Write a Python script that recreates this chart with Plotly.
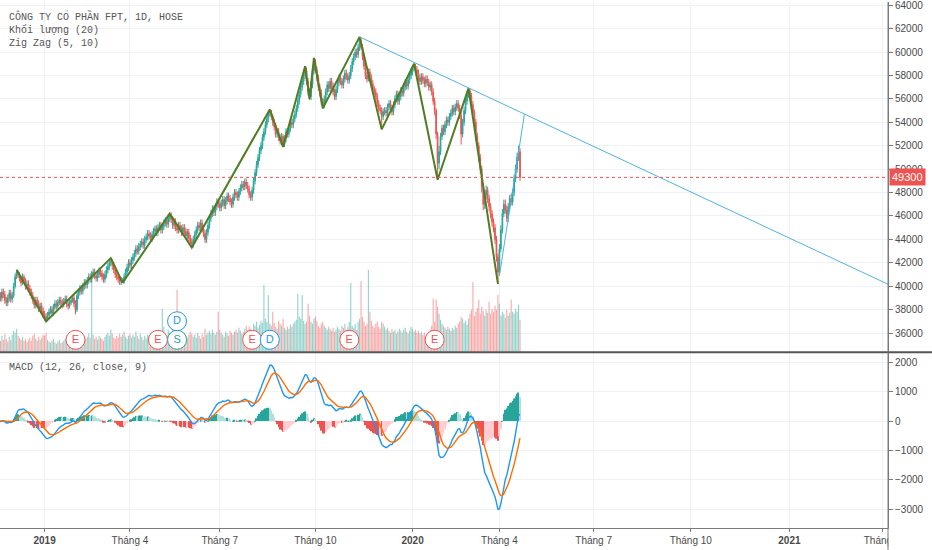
import pandas as pd
import plotly.graph_objects as go

# ---------------- data ----------------
HOLIDAYS = ["2019-01-01", "2019-02-04", "2019-02-05", "2019-02-06", "2019-02-07", "2019-02-08",
            "2019-04-15", "2019-04-29", "2019-04-30", "2019-05-01", "2019-09-02",
            "2020-01-01", "2020-01-23", "2020-01-24", "2020-01-27", "2020-01-28", "2020-01-29",
            "2020-04-02"]
START_DATE = "2018-11-19"
END_DATE = "2020-04-22"

# prices in hundreds of VND
close_h = [392,390,395,393,388,386,390,394,389,392,
           400,408,412,410,407,403,408,405,400,402,
           398,395,392,388,384,388,385,381,383,379,
           376,374,372,375,378,380,377,382,385,383,
           386,388,386,384,387,389,385,383,386,388,
           390,385,380,392,395,398,396,400,403,401,
           405,408,406,410,412,409,407,410,413,411,
           408,406,410,414,417,420,421,418,414,410,
           408,406,404,405,404,408,412,416,420,418,
           422,425,428,432,430,434,436,438,435,440,
           442,445,443,441,444,447,449,446,450,452,
           448,451,454,456,453,458,460,457,452,455,
           450,448,452,449,446,450,447,443,446,441,
           438,436,440,444,448,452,450,454,449,445,
           440,446,452,458,462,466,463,468,472,470,
           467,471,474,469,473,477,475,472,470,476,
           480,478,476,481,484,487,485,489,486,483,
           478,476,482,490,497,504,510,516,520,527,
           532,538,543,548,550,545,540,536,530,532,
           527,524,528,521,526,532,530,535,540,538,
           543,547,552,558,564,570,575,580,584,575,
           566,562,572,584,592,585,578,570,565,558,
           555,560,566,572,569,575,571,566,562,568,
           574,578,575,572,577,582,579,576,580,586,
           592,596,600,598,604,610,604,596,588,580,
           577,583,578,573,568,566,562,556,552,550,
           545,549,550,548,553,556,552,549,555,560,
           564,558,562,567,565,570,574,571,576,580,
           583,587,588,585,582,578,575,579,576,573,
           577,574,570,572,566,558,550,530,505,515,
           528,535,532,538,542,540,545,548,552,549,
           553,556,552,546,530,540,550,558,564,567,
           562,555,548,540,528,520,510,500,485,470,
           478,482,475,468,462,455,450,440,425,412,
           432,448,462,470,465,458,468,475,472,480,
           492,500,510,515,493]

open_h = [394,392,390,395,393,388,386,390,394,389,
          392,400,408,412,410,407,403,408,405,400,
          402,398,395,392,388,384,388,385,381,383,
          379,376,374,372,375,378,380,377,382,385,
          383,386,388,386,384,387,389,385,383,386,
          388,390,385,380,392,395,398,396,400,403,
          401,405,408,406,410,412,409,407,410,413,
          411,408,406,410,414,417,420,421,418,414,
          410,408,406,404,405,404,408,412,416,420,
          418,422,425,428,432,430,434,436,438,435,
          440,442,445,443,441,444,447,449,446,450,
          452,448,451,454,456,453,458,460,457,452,
          455,450,448,452,449,446,450,447,443,446,
          441,438,436,440,444,448,452,450,454,449,
          445,440,446,452,458,462,466,463,468,472,
          470,467,471,474,469,473,477,475,472,470,
          476,480,478,476,481,484,487,485,489,486,
          483,478,476,482,490,497,504,510,516,520,
          527,532,538,543,548,550,545,540,536,530,
          532,527,524,528,521,526,532,530,535,540,
          538,543,547,552,558,564,570,575,580,584,
          575,566,562,572,584,592,585,578,570,565,
          558,555,560,566,572,569,575,571,566,562,
          568,574,578,575,572,577,582,579,576,580,
          586,592,596,600,598,604,610,604,596,588,
          580,577,583,578,573,568,566,562,556,552,
          550,545,549,550,548,553,556,552,549,555,
          560,564,558,562,567,565,570,574,571,576,
          580,583,587,588,585,582,578,575,579,576,
          573,577,574,570,572,566,558,550,530,505,
          515,528,535,532,538,542,540,545,548,552,
          549,553,556,552,546,530,540,550,558,564,
          567,562,555,548,540,528,520,510,500,485,
          470,478,482,475,468,462,455,450,440,425,
          412,432,448,462,470,465,458,468,475,472,
          480,492,500,510,515]

high_h = [397,395,398,398,396,391,393,397,397,395,
          403,411,414,413,412,409,411,410,407,405,
          405,401,398,395,391,391,391,388,386,386,
          382,379,377,378,381,383,383,385,388,388,
          389,391,391,389,390,392,392,388,389,391,
          393,393,388,395,398,401,401,403,406,406,
          408,411,411,413,415,415,412,413,416,416,
          414,411,413,417,420,423,424,423,421,417,
          413,411,409,408,407,411,415,419,423,423,
          425,428,431,435,435,437,439,441,441,443,
          445,448,448,446,447,450,452,452,453,455,
          455,454,457,459,459,461,462,463,460,458,
          458,453,455,455,452,453,453,450,449,449,
          444,441,443,447,451,455,455,457,457,452,
          448,449,455,461,465,469,469,471,475,475,
          473,474,477,477,476,480,480,478,475,479,
          483,483,481,484,487,490,490,492,492,489,
          486,481,485,493,500,507,513,519,523,530,
          535,541,546,550,551,549,547,543,539,535,
          535,530,531,530,529,535,535,538,543,543,
          546,550,555,561,567,573,578,583,588,587,
          578,569,575,587,595,594,588,581,573,568,
          561,563,569,575,575,578,578,574,569,571,
          577,581,581,578,580,585,585,582,583,589,
          595,599,603,603,607,613,612,607,599,591,
          583,586,586,581,576,571,569,565,559,555,
          553,552,553,553,556,559,559,555,558,563,
          567,567,565,570,570,573,577,577,579,583,
          586,589,590,590,588,585,581,582,582,579,
          580,580,577,575,575,569,561,552,532,520,
          531,538,538,541,545,545,548,551,555,555,
          556,559,559,555,549,543,553,561,567,569,
          569,565,558,551,543,531,523,513,503,488,
          482,486,485,478,471,465,458,453,443,428,
          436,452,466,474,474,469,471,478,479,483,
          495,504,514,520,518]

low_h = [389,387,387,390,385,383,383,387,386,386,
         390,398,406,407,404,400,401,402,397,398,
         395,392,389,385,381,381,382,378,379,376,
         373,371,370,370,373,376,374,375,380,380,
         381,384,383,381,382,385,382,380,381,384,
         386,382,376,378,389,392,393,393,397,398,
         398,402,403,403,407,406,404,404,407,408,
         405,403,403,407,411,414,417,414,411,407,
         405,403,401,401,403,402,405,409,413,415,
         415,419,422,425,427,427,431,433,432,432,
         437,439,440,438,438,441,444,443,443,447,
         445,445,448,451,450,450,455,454,449,449,
         447,445,445,446,443,443,444,440,440,438,
         435,433,433,437,441,445,447,447,446,442,
         437,437,443,449,455,459,460,460,465,467,
         464,464,468,466,466,470,472,469,467,467,
         473,475,473,473,478,481,482,482,483,480,
         475,473,473,479,487,494,501,507,513,517,
         524,529,535,540,545,542,537,533,527,527,
         524,521,521,519,519,523,527,527,532,535,
         535,540,544,549,555,561,567,572,577,572,
         563,559,559,569,581,582,575,567,562,555,
         552,552,557,563,566,566,568,563,559,559,
         565,571,572,569,569,574,576,573,573,577,
         583,589,593,595,595,601,602,593,585,577,
         574,575,575,570,565,563,559,553,549,547,
         534,542,546,545,545,550,549,546,546,552,
         557,555,555,559,562,562,567,568,568,573,
         577,580,584,582,579,575,572,572,573,570,
         570,571,567,567,563,555,546,526,491,500,
         512,525,529,529,535,537,537,542,545,546,
         546,550,549,543,521,527,537,547,555,561,
         559,552,545,536,524,516,506,496,480,465,
         466,474,471,464,458,451,446,436,421,402,
         409,429,445,459,462,455,455,465,469,469,
         477,489,497,507,490]

# volume, in units of 10,000 shares
volume = [140,110,160,120,180,130,100,150,120,170,
          210,190,230,160,140,120,150,110,130,100,
          120,140,110,160,180,130,110,150,120,140,
          170,160,190,120,100,90,110,130,95,80,
          100,120,85,95,110,130,90,100,140,120,
          110,160,200,150,130,110,140,120,160,130,
          150,180,140,800,170,130,150,120,160,140,
          130,110,150,170,190,160,220,180,140,130,
          160,140,180,150,170,200,150,130,160,180,
          140,170,150,200,160,130,180,150,120,160,
          130,170,150,140,180,210,160,190,150,170,
          200,430,250,180,160,220,190,170,230,200,
          180,620,240,200,170,150,190,160,140,170,
          200,180,150,170,140,190,160,130,180,150,
          230,170,190,210,180,220,190,170,200,400,
          220,190,170,150,200,180,160,210,190,170,
          200,220,190,240,210,180,200,230,260,220,
          250,230,210,280,260,300,240,270,310,290,
          670,330,300,570,280,260,400,290,250,230,
          310,280,260,330,240,220,250,230,270,250,
          280,300,320,580,350,330,570,310,280,300,
          480,360,300,280,330,350,310,260,240,280,
          300,260,240,220,250,230,210,240,200,220,
          250,230,210,260,240,280,220,250,300,690,
          260,240,280,220,300,330,710,350,300,260,
          280,820,400,310,260,240,280,300,250,230,
          300,280,250,220,240,210,190,230,200,220,
          180,200,230,210,190,220,240,200,180,210,
          250,230,200,220,190,210,180,200,170,190,
          160,180,200,220,260,530,300,520,450,380,
          320,280,260,240,220,250,230,210,240,220,
          260,240,280,300,350,330,290,310,270,330,
          380,420,700,360,400,440,520,380,450,410,
          360,420,390,500,380,430,400,460,420,570,
          480,360,400,380,340,420,360,390,520,400,
          380,430,400,470,320]

# Zig Zag pivots
zz_dates = ["2018-12-05", "2019-01-03", "2019-03-13", "2019-03-25", "2019-05-14", "2019-06-04",
            "2019-08-16", "2019-08-29", "2019-09-20", "2019-09-25", "2019-09-30", "2019-10-08",
            "2019-11-12", "2019-12-03", "2020-01-03", "2020-02-03", "2020-03-03", "2020-03-31"]
zz_prices = [41400, 37000, 42400, 40300, 46200, 43300, 55100, 51900, 58800, 56000, 59500, 55200,
             61300, 53400, 59000, 49100, 56900, 40200]

# drawn lines
trend_dates = ["2019-11-12", "2021-04-07"]
trend_prices = [61300, 40170]
rise_dates = ["2020-04-01", "2020-04-27"]
rise_prices = [40900, 54700]

last_price = 49300

# events (date, letter, stack row)
ev_dates = ["2019-01-31", "2019-05-02", "2019-05-21", "2019-05-21", "2019-07-31", "2019-08-16",
            "2019-11-01", "2020-01-30"]
ev_labels = ["E", "E", "S", "D", "E", "D", "E", "E"]
ev_rows = [0, 0, 0, 1, 0, 0, 0, 0]

tick_dates = ["2019-01-02", "2019-04-01", "2019-07-01", "2019-10-01", "2020-01-02",
              "2020-04-01", "2020-07-01", "2020-10-01", "2021-01-04", "2021-04-01"]
tick_labels = ["<b>2019</b>", "Tháng 4", "Tháng 7", "Tháng 10", "<b>2020</b>",
               "Tháng 4", "Tháng 7", "Tháng 10", "<b>2021</b>", "Tháng 4"]

# ---------------- derived ----------------
dates = [d for d in pd.bdate_range(START_DATE, END_DATE) if d.strftime("%Y-%m-%d") not in HOLIDAYS]
assert len(dates) == len(close_h), (len(dates), len(close_h))
close = [v * 100 for v in close_h]
opn = [v * 100 for v in open_h]
high = [v * 100 for v in high_h]
low = [v * 100 for v in low_h]

UP = "#26a69a"
DOWN = "#ef5350"
vol_colors = ["rgba(38,166,154,0.5)" if c >= o else "rgba(239,83,80,0.5)" for o, c in zip(opn, close)]

cs = pd.Series(close, dtype=float)
macd = cs.ewm(span=12, adjust=False).mean() - cs.ewm(span=26, adjust=False).mean()
signal = macd.ewm(span=9, adjust=False).mean()
hist = macd - signal
hist_colors = []
prev = 0.0
for h in hist:
    if h >= 0:
        hist_colors.append("#26a69a" if h >= prev else "#b2dfdb")
    else:
        hist_colors.append("#ffcdd2" if h >= prev else "#ef5350")
    prev = h

ev_color = {"E": "#ef5350", "D": "#2196f3", "S": "#26a69a"}

# ---------------- figure ----------------
fig = go.Figure()

fig.add_trace(go.Bar(x=dates, y=volume, marker=dict(color=vol_colors, line_width=0),
                     xaxis="x", yaxis="y", hoverinfo="skip"))
fig.add_trace(go.Candlestick(x=dates, open=opn, high=high, low=low, close=close,
                             increasing=dict(line=dict(color=UP, width=1), fillcolor=UP),
                             decreasing=dict(line=dict(color=DOWN, width=1), fillcolor=DOWN),
                             whiskerwidth=0, xaxis="x", yaxis="y3", hoverinfo="skip"))
fig.add_trace(go.Scatter(x=zz_dates, y=zz_prices, mode="lines",
                         line=dict(color="#4e7d24", width=2), xaxis="x", yaxis="y3", hoverinfo="skip"))
fig.add_trace(go.Scatter(x=trend_dates, y=trend_prices, mode="lines",
                         line=dict(color="#4fb2e3", width=1), xaxis="x", yaxis="y3", hoverinfo="skip"))
fig.add_trace(go.Scatter(x=rise_dates, y=rise_prices, mode="lines",
                         line=dict(color="#4fb2e3", width=1), xaxis="x", yaxis="y3", hoverinfo="skip"))
fig.add_trace(go.Scatter(
    x=ev_dates, y=[0.034 + 0.053 * r for r in ev_rows], mode="markers+text",
    text=ev_labels, textposition="middle center",
    textfont=dict(family="Liberation Sans", size=11, color=[ev_color[l] for l in ev_labels]),
    marker=dict(symbol="circle", size=19, color="white",
                line=dict(color=[ev_color[l] for l in ev_labels], width=1)),
    xaxis="x", yaxis="y4", hoverinfo="skip", cliponaxis=False))

fig.add_trace(go.Bar(x=dates, y=hist, marker=dict(color=hist_colors, line_width=0),
                     xaxis="x", yaxis="y2", hoverinfo="skip"))
fig.add_trace(go.Scatter(x=dates, y=macd, mode="lines", line=dict(color="#2196f3", width=1.4),
                         xaxis="x", yaxis="y2", hoverinfo="skip"))
fig.add_trace(go.Scatter(x=dates, y=signal, mode="lines", line=dict(color="#ff6d00", width=1.4),
                         xaxis="x", yaxis="y2", hoverinfo="skip"))

AX_FONT = dict(family="Liberation Sans", size=10, color="#4a4a4a")
HDR_FONT = dict(family="Liberation Mono", size=10, color="#555555")
GRID = "#eef1f6"
LINE = "#7a7a7a"

MAIN_BOTTOM = (528 - 351) / 528
MACD_TOP = (528 - 352) / 528

fig.update_layout(
    width=932, height=550,
    margin=dict(l=0, r=44, t=0, b=22),
    paper_bgcolor="white", plot_bgcolor="white",
    showlegend=False, bargap=0.25,
    xaxis=dict(type="date", domain=[0, 1], anchor="y2",
               range=["2018-11-19 17:00", "2021-04-07"],
               rangebreaks=[dict(bounds=["sat", "mon"]), dict(values=HOLIDAYS)],
               tickmode="array", tickvals=tick_dates, ticktext=tick_labels,
               showgrid=True, gridcolor=GRID, gridwidth=1,
               showline=True, linecolor=LINE, linewidth=1,
               ticks="outside", ticklen=3, tickcolor=LINE, tickfont=AX_FONT,
               rangeslider=dict(visible=False), zeroline=False),
    yaxis=dict(domain=[MAIN_BOTTOM, 1], range=[0, 3510], visible=False, fixedrange=True),
    yaxis3=dict(overlaying="y", anchor="x", side="right", range=[34410, 64280],
                tickmode="linear", tick0=0, dtick=2000, showgrid=True, gridcolor=GRID,
                showline=True, linecolor=LINE, linewidth=1, ticks="outside", ticklen=4,
                tickcolor=LINE, tickfont=AX_FONT, zeroline=False, tickformat="d",
                ticklabeloverflow="allow"),
    yaxis4=dict(overlaying="y", anchor="x", range=[0, 1], visible=False),
    yaxis2=dict(domain=[0, MACD_TOP], anchor="x", side="right", range=[-3637, 2329],
                tickmode="linear", tick0=0, dtick=1000, showgrid=True, gridcolor=GRID,
                showline=True, linecolor=LINE, linewidth=1, ticks="outside", ticklen=4,
                tickcolor=LINE, tickfont=AX_FONT, zeroline=False, tickformat="d",
                ticklabeloverflow="allow"),
    shapes=[
        dict(type="line", xref="paper", yref="y3", x0=0, x1=1, y0=last_price, y1=last_price,
             line=dict(color="#ef5350", width=1, dash="dot")),
        dict(type="rect", xref="paper", yref="paper", x0=1.0005, x1=1.06, y0=-0.05, y1=-0.001,
             fillcolor="white", line_width=0, layer="above"),
        dict(type="line", xref="paper", yref="paper", x0=0, x1=1.06,
             y0=(MAIN_BOTTOM + MACD_TOP) / 2, y1=(MAIN_BOTTOM + MACD_TOP) / 2,
             line=dict(color="#555555", width=2), layer="above"),
        dict(type="line", xref="paper", yref="paper", x0=1, x1=1, y0=-0.05, y1=1,
             line=dict(color=LINE, width=1), layer="above"),
    ],
    annotations=[
        dict(xref="paper", yref="paper", x=0.008, y=1 - 6 / 528, xanchor="left", yanchor="top",
             text="CÔNG TY CỔ PHẦN FPT, 1D, HOSE", showarrow=False, font=HDR_FONT),
        dict(xref="paper", yref="paper", x=0.008, y=1 - 20 / 528, xanchor="left", yanchor="top",
             text="Khối lượng (20)", showarrow=False, font=HDR_FONT),
        dict(xref="paper", yref="paper", x=0.008, y=1 - 34 / 528, xanchor="left", yanchor="top",
             text="Zig Zag (5, 10)", showarrow=False, font=HDR_FONT),
        dict(xref="paper", yref="paper", x=0.008, y=1 - 359 / 528, xanchor="left", yanchor="top",
             text="MACD (12, 26, close, 9)", showarrow=False, font=HDR_FONT),
        dict(xref="paper", yref="y3", x=1, y=last_price, xanchor="left", yanchor="middle",
             text=str(last_price), showarrow=False, bgcolor="#ef5350", borderpad=2, xshift=1,
             font=dict(family="Liberation Sans", size=11, color="white")),
    ],
)

fig.write_html("out.html", config={"displayModeBar": False},
               post_script="document.body.style.margin='0px';")
